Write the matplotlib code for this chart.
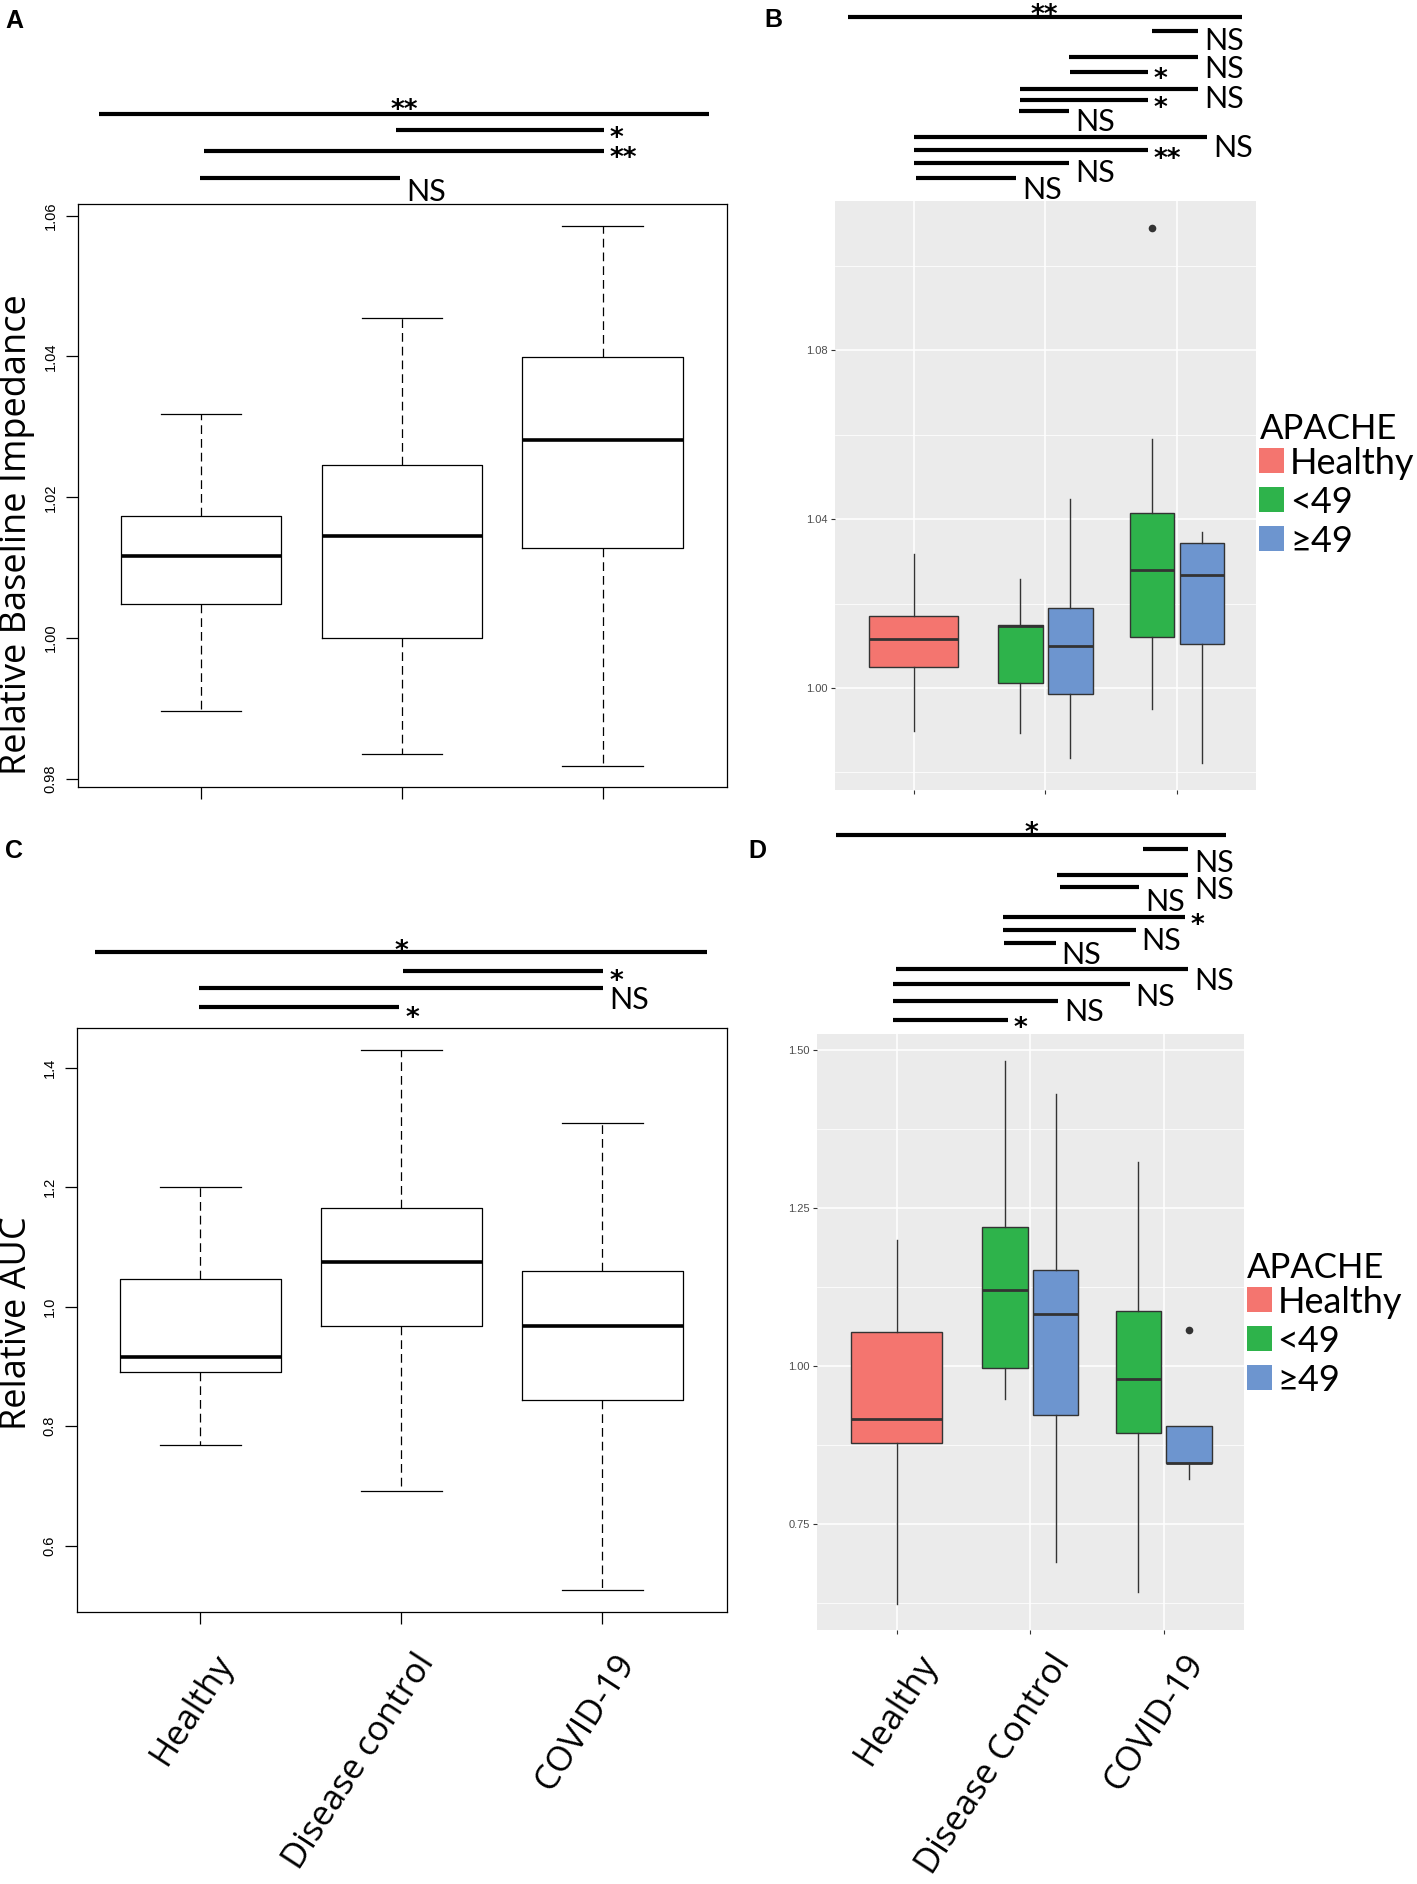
import matplotlib
matplotlib.use("Agg")
import matplotlib.pyplot as plt
from matplotlib import transforms
from matplotlib.patches import Rectangle
import numpy as np

W, H = 1417, 1884          # output size in px (dpi 100)

# ------------------------------------------------------------------ data
groups = ["Healthy", "Disease control", "COVID-19"]
groups_d = ["Healthy", "Disease Control", "COVID-19"]
apache = ["Healthy", "<49", "\u226549"]
apache_colors = ["#F4756F", "#2EB34B", "#6D95CF"]

# A: relative baseline impedance (whisker low, q1, median, q3, whisker high)
imp_lo = [0.9897, 0.9835, 0.9819]
imp_q1 = [1.0048, 1.0000, 1.0128]
imp_med = [1.0117, 1.0145, 1.0282]
imp_q3 = [1.0173, 1.0246, 1.0399]
imp_hi = [1.0318, 1.0454, 1.0585]

# B: same, split by APACHE score
sub_cat = [0, 1, 1, 2, 2]          # group index
sub_apache = [0, 1, 2, 1, 2]       # APACHE index
impB_lo = [0.9899, 0.9892, 0.9833, 0.9951, 0.9821]
impB_q1 = [1.0050, 1.0011, 0.9986, 1.0120, 1.0105]
impB_med = [1.0117, 1.0146, 1.0100, 1.0280, 1.0268]
impB_q3 = [1.0170, 1.0148, 1.0189, 1.0414, 1.0344]
impB_hi = [1.0317, 1.0259, 1.0448, 1.0589, 1.0369]
impB_out = [[], [], [], [1.1089], []]

# C: relative AUC
auc_lo = [0.769, 0.691, 0.526]
auc_q1 = [0.890, 0.967, 0.843]
auc_med = [0.916, 1.074, 0.968]
auc_q3 = [1.047, 1.166, 1.060]
auc_hi = [1.200, 1.429, 1.307]

# D: relative AUC by APACHE
aucD_lo = [0.6237, 0.9477, 0.6908, 0.6424, 0.8218]
aucD_q1 = [0.8786, 0.9968, 0.9219, 0.8935, 0.8464]
aucD_med = [0.9160, 1.1194, 1.0826, 0.9793, 0.8464]
aucD_q3 = [1.0536, 1.2195, 1.1517, 1.0871, 0.9058]
aucD_hi = [1.1995, 1.4826, 1.4296, 1.3227, 0.9058]
aucD_out = [[], [], [], [], [1.0568]]

# significance bars: (x from, x to, bar y px, label, label centre y px)
sig_A = [(0.49, 3.53, 113.7, "**", 103), (1.97, 3.005, 130, "*", 131.7),
         (1.016, 3.005, 151.3, "**", 151.7), (0.994, 1.99, 177.7, "NS", 190)]
sig_B = [(0.5, 3.49, 16.7, "**", 8), (2.81, 3.16, 31, "NS", 39.3),
         (2.18, 3.16, 56.7, "NS", 66.7), (2.19, 2.78, 71.7, "*", 72.7),
         (1.81, 3.16, 89, "NS", 96.7), (1.81, 2.78, 100.3, "*", 101.7),
         (1.80, 2.18, 110.7, "NS", 120), (1.0, 3.23, 136.7, "NS", 145.7),
         (1.0, 2.78, 150.3, "**", 152.3), (1.0, 2.18, 163, "NS", 171),
         (1.02, 1.78, 178, "NS", 187.7)]
sig_C = [(0.476, 3.52, 952.3, "*", 944.5), (2.007, 3.004, 970.6, "*", 974.3),
         (0.995, 3.004, 988.4, "NS", 997.8), (0.995, 1.99, 1006.7, "*", 1011)]
sig_D = [(0.548, 3.467, 835, "*", 826), (2.845, 3.184, 848.7, "NS", 861),
         (2.20, 3.184, 875.3, "NS", 888.3), (2.224, 2.813, 887.3, "NS", 900),
         (1.794, 3.157, 916.7, "*", 918.3), (1.794, 2.79, 930.3, "NS", 939.3),
         (1.80, 2.19, 943.3, "NS", 952.7), (0.997, 3.184, 969.3, "NS", 979.3),
         (0.97, 2.745, 984.3, "NS", 995), (0.97, 2.21, 1000.7, "NS", 1010),
         (0.97, 1.83, 1020, "*", 1021.7)]

ANN_FONT = "Lato"
STAR_FONT = "DejaVu Sans"
LAB_FONT = "Open Sans"
NUM_FONT = "Liberation Sans"

fig = plt.figure(figsize=(W / 100, H / 100), dpi=100)


def fy(y):
    return 1 - y / H


def add_ax(l, t, r, b):
    return fig.add_axes([l / W, 1 - b / H, (r - l) / W, (b - t) / H])


def blend(ax):
    return transforms.blended_transform_factory(ax.transData, fig.transFigure)


def px_shift(dx):
    return transforms.ScaledTranslation(dx / 100, 0, fig.dpi_scale_trans)


def stats_of(lo, q1, med, q3, hi, out=None):
    out = out or [[] for _ in lo]
    return [dict(whislo=a, q1=b, med=c, q3=d, whishi=e, fliers=f)
            for a, b, c, d, e, f in zip(lo, q1, med, q3, hi, out)]


# ------------------------------------------------------------- R style panel
def r_panel(ax, stats, ylim, yticks, ticklabels):
    ax.bxp(stats, positions=[1, 2, 3], widths=0.8, capwidths=0.4,
           showfliers=False, manage_ticks=False,
           boxprops=dict(color="black", lw=0.9),
           medianprops=dict(color="black", lw=2.6, solid_capstyle="butt"),
           whiskerprops=dict(color="black", lw=0.9, linestyle=(0, (7, 4))),
           capprops=dict(color="black", lw=0.9))
    ax.set_xlim(0.384, 3.62)
    ax.set_ylim(*ylim)
    ax.set_xticks([1, 2, 3])
    ax.set_yticks(yticks)
    ax.set_yticklabels(ticklabels, rotation=90, va="center", family=NUM_FONT,
                       fontsize=10.5)
    ax.tick_params(length=8.5, width=0.9, labelbottom=False, pad=6)
    for s in ax.spines.values():
        s.set_linewidth(0.9)


# ------------------------------------------------------------ ggplot panel
def gg_panel(ax, stats, ylim, major, minor):
    pos = [c + 1 + (0 if a == 0 else (-0.19 if a == 1 else 0.19))
           for c, a in zip(sub_cat, sub_apache)]
    wid = [0.68 if a == 0 else 0.34 for a in sub_apache]
    bp = ax.bxp(stats, positions=pos, widths=wid, patch_artist=True,
                showcaps=False, manage_ticks=False,
                boxprops=dict(edgecolor="#333333", lw=1.0),
                medianprops=dict(color="#333333", lw=2.0, solid_capstyle="butt"),
                whiskerprops=dict(color="#333333", lw=1.0),
                flierprops=dict(marker="o", markersize=5.5, markerfacecolor="#333333",
                                markeredgecolor="none"))
    for patch, a in zip(bp["boxes"], sub_apache):
        patch.set_facecolor(apache_colors[a])
    ax.set_facecolor("#EBEBEB")
    ax.set_axisbelow(True)
    for s in ax.spines.values():
        s.set_visible(False)
    ax.set_xlim(0.4, 3.6)
    ax.set_ylim(*ylim)
    ax.set_xticks([1, 2, 3])
    ax.set_yticks(major)
    ax.set_yticks(minor, minor=True)
    ax.set_yticklabels([f"{v:.2f}" for v in major], family=NUM_FONT, fontsize=8,
                       color="#4D4D4D")
    ax.grid(which="major", color="white", lw=1.1)
    ax.grid(which="minor", axis="y", color="white", lw=0.55)
    ax.tick_params(which="major", length=3, width=0.8, color="#333333",
                   labelbottom=False, pad=2)
    ax.tick_params(which="minor", length=0)


def legend(xk, first_top):
    fig.text(xk / W, fy(first_top - 9), "APACHE", family=ANN_FONT, fontsize=25,
             va="baseline", ha="left")
    for i, (lab, col) in enumerate(zip(apache, apache_colors)):
        top = first_top + i * 38.8
        fig.add_artist(Rectangle((xk / W, fy(top + 25)), 25 / W, 25 / H,
                                 transform=fig.transFigure, facecolor=col,
                                 edgecolor="none"))
        fig.text((xk + 30.6) / W, fy(top + 26), lab, family=ANN_FONT, fontsize=26,
                 va="baseline", ha="left")


def sig_bars(ax, specs, fs=22):
    tr = blend(ax)
    for x0, x1, y, lab, ty in specs:
        ax.plot([x0, x1], [fy(y), fy(y)], transform=tr, color="black", lw=3,
                solid_capstyle="butt", clip_on=False)
        if lab == "NS":
            kw = dict(family=ANN_FONT, fontsize=fs)
            base = ty + 0.36 * fs * 100 / 72
        else:
            kw = dict(family=STAR_FONT, fontsize=19, fontweight="bold")
            base = ty + 0.56 * 19 * 100 / 72
        if x1 - x0 > 2.8:      # spanning bar: label centred above
            ax.text((x0 + x1) / 2, fy(base), lab, transform=tr, ha="center",
                    va="baseline", **kw)
        else:
            ax.text(x1, fy(base), lab, transform=tr + px_shift(6),
                    ha="left", va="baseline", **kw)


def xlabels(ax, labels, ypx, dx):
    for x, lab in zip([1, 2, 3], labels):
        ax.text(x, fy(ypx), lab, transform=blend(ax) + px_shift(dx), rotation=57,
                rotation_mode="anchor", ha="right", va="center", family=LAB_FONT,
                fontsize=25)


# ------------------------------------------------------------------ panels
axA = add_ax(77.6, 204.3, 727, 786.7)
r_panel(axA, stats_of(imp_lo, imp_q1, imp_med, imp_q3, imp_hi),
        (0.9789, 1.0616), [0.98, 1.00, 1.02, 1.04, 1.06],
        ["0.98", "1.00", "1.02", "1.04", "1.06"])
sig_bars(axA, sig_A)
fig.text(17 / W, fy(535), "Relative Baseline Impedance", rotation=90, ha="center",
         va="center", family=LAB_FONT, fontsize=26)

axB = add_ax(834.6, 201.4, 1256, 790)
gg_panel(axB, stats_of(impB_lo, impB_q1, impB_med, impB_q3, impB_hi, impB_out),
         (0.9758, 1.1153), [1.00, 1.04, 1.08], [0.98, 1.02, 1.06, 1.10])
sig_bars(axB, sig_B)
legend(1259.4, 448)

axC = add_ax(76.6, 1028, 727, 1612.4)
r_panel(axC, stats_of(auc_lo, auc_q1, auc_med, auc_q3, auc_hi),
        (0.488, 1.4666), [0.6, 0.8, 1.0, 1.2, 1.4],
        ["0.6", "0.8", "1.0", "1.2", "1.4"])
sig_bars(axC, sig_C)
xlabels(axC, groups, 1657, 26)
fig.text(17 / W, fy(1323), "Relative AUC", rotation=90, ha="center", va="center",
         family=LAB_FONT, fontsize=26)

axD = add_ax(816.6, 1033.5, 1243.9, 1630.2)
gg_panel(axD, stats_of(aucD_lo, aucD_q1, aucD_med, aucD_q3, aucD_hi, aucD_out),
         (0.5822, 1.5258), [0.75, 1.00, 1.25, 1.50], [0.625, 0.875, 1.125, 1.375])
sig_bars(axD, sig_D)
legend(1246.8, 1287)
xlabels(axD, groups_d, 1657, 33)

for letter, x, y in [("A", 14.5, 21.5), ("B", 773, 20), ("C", 14.5, 851), ("D", 757, 851)]:
    fig.text(x / W, fy(y), letter, ha="center", va="center", family=NUM_FONT,
             fontweight="bold", fontsize=18)

fig.savefig("out.png", dpi=100)
